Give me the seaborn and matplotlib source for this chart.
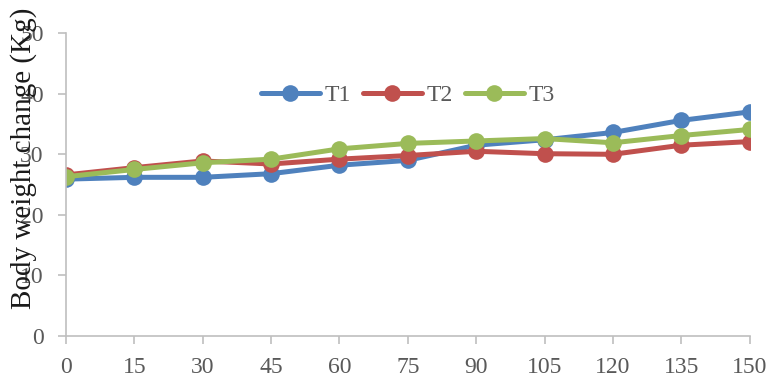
import numpy as np
import pandas as pd
import matplotlib
matplotlib.use("Agg")
import matplotlib.pyplot as plt
import seaborn as sns

# Days of the feeding trial
days = [0, 15, 30, 45, 60, 75, 90, 105, 120, 135, 150]

# Body weight (kg) per treatment
t1 = [25.9, 26.2, 26.2, 26.8, 28.2, 29.0, 31.5, 32.4, 33.6, 35.6, 37.0]
t2 = [26.6, 27.8, 28.9, 28.4, 29.2, 29.8, 30.5, 30.1, 30.0, 31.5, 32.1]
t3 = [26.3, 27.5, 28.6, 29.2, 30.9, 31.8, 32.2, 32.6, 31.9, 33.1, 34.1]

treatments = ["T1", "T2", "T3"]
palette = ["#4f81bd", "#c0504d", "#9bbb59"]

y_ticks = [0, 10, 20, 30, 40, 50]

df = pd.DataFrame({
    "day": days * 3,
    "weight": t1 + t2 + t3,
    "treatment": [t for t in treatments for _ in days],
})

sns.set_theme(style="white")
plt.rcParams["font.family"] = ["Liberation Serif", "DejaVu Serif"]

fig = plt.figure(figsize=(7.69, 3.81), dpi=100)
ax = fig.add_axes([0.0858, 0.118, 0.889, 0.795])

sns.lineplot(data=df, x="day", y="weight", hue="treatment",
             palette=palette, marker="o", markersize=12,
             markeredgewidth=0, linewidth=3.6, ax=ax, legend=True)

ax.set_xlim(0, 150)
ax.set_ylim(0, 50)
ax.set_xticks(days)
ax.set_yticks(y_ticks)
ax.set_xlabel("")
ax.set_ylabel("")

gray = "#595959"
spine_c = "#bfbfbf"
for s in ["top", "right"]:
    ax.spines[s].set_visible(False)
for s in ["left", "bottom"]:
    ax.spines[s].set_color(spine_c)
    ax.spines[s].set_linewidth(1.2)
ax.tick_params(axis="both", which="major", direction="out", length=6,
               width=1.2, color=spine_c, labelcolor=gray, labelsize=17,
               left=True, bottom=True)
ax.tick_params(axis="y", pad=10)
ax.tick_params(axis="x", pad=9)

fig.text(0.031, 0.585, "Body weight change (Kg)", rotation=90,
         ha="center", va="center", fontsize=21, color="#1a1a1a")

leg = ax.legend(loc="center", bbox_to_anchor=(0.5, 0.795), ncol=3,
                frameon=False, fontsize=17, handlelength=2.5,
                columnspacing=0.5, handletextpad=0.2, labelcolor=gray)

fig.savefig("out.png", dpi=100)
